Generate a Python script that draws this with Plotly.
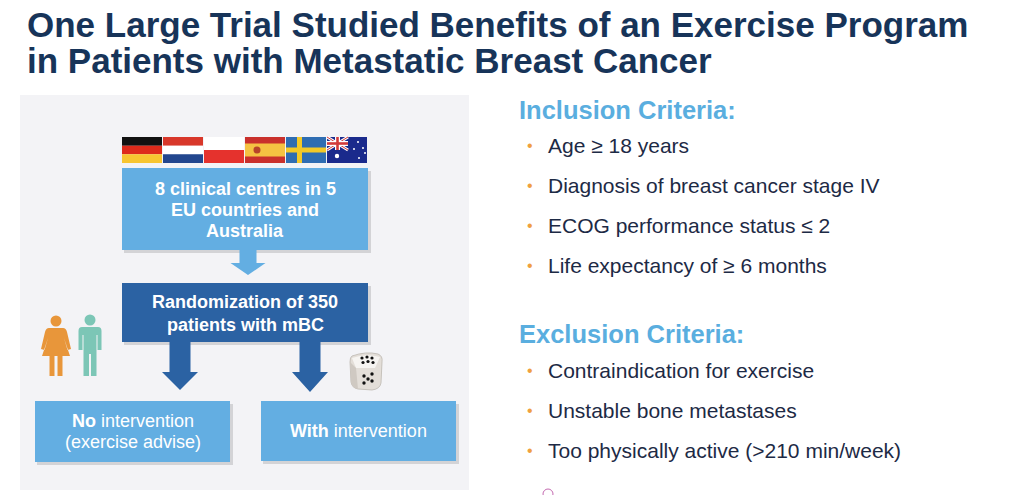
import plotly.graph_objects as go

# ---------------- content ----------------
TITLE_LINES = [
    "One Large Trial Studied Benefits of an Exercise Program",
    "in Patients with Metastatic Breast Cancer",
]
FLAGS = ["Germany", "Netherlands", "Poland", "Spain", "Sweden", "Australia"]
BOX_CENTRES = ["8 clinical centres in 5", "EU countries and", "Australia"]
BOX_RANDOM = ["Randomization of 350", "patients with mBC"]
ARM_NO = ("No", " intervention", "(exercise advise)")
ARM_WITH = ("With", " intervention")
INCLUSION_HEADER = "Inclusion Criteria:"
INCLUSION = [
    "Age ≥ 18 years",
    "Diagnosis of breast cancer stage IV",
    "ECOG performance status ≤ 2",
    "Life expectancy of ≥ 6 months",
]
EXCLUSION_HEADER = "Exclusion Criteria:"
EXCLUSION = [
    "Contraindication for exercise",
    "Unstable bone metastases",
    "Too physically active (>210 min/week)",
]

# ---------------- style ----------------
W, H = 1033, 495
OFF = 0
FONT = "Liberation Sans, Arial, sans-serif"
NAVY = "#173459"
TEXT = "#1d2a45"
LIGHT = "#63aee2"
DARK = "#2b62a3"
HEAD = "#5aaedf"
ORANGE = "#f0a040"
PANEL = "#f3f3f6"

shapes = []
ann = []


def rect(x0, y0, x1, y1, color, **kw):
    shapes.append(dict(type="rect", xref="x", yref="y", x0=x0, y0=y0, x1=x1, y1=y1,
                       fillcolor=color, line=dict(width=0), **kw))


def path(d, color, lw=0, lc=None):
    shapes.append(dict(type="path", xref="x", yref="y", path=d, fillcolor=color,
                       line=dict(width=lw, color=lc or color)))


def circle(cx, cy, r, color):
    shapes.append(dict(type="circle", xref="x", yref="y", x0=cx - r, x1=cx + r,
                       y0=cy - r, y1=cy + r, fillcolor=color, line=dict(width=0)))


def text(x, y, s, size, color, bold=False, anchor="left"):
    ann.append(dict(x=x, y=y, xref="x", yref="y", text=(f"<b>{s}</b>" if bold else s),
                    showarrow=False, xanchor=anchor, yanchor="middle",
                    font=dict(family=FONT, size=size, color=color)))


def down_arrow(cx, y0, yh, yt, sw, hw, color):
    d = (f"M {cx-sw/2},{y0} L {cx+sw/2},{y0} L {cx+sw/2},{yh} L {cx+hw/2},{yh} "
         f"L {cx},{yt} L {cx-hw/2},{yh} L {cx-sw/2},{yh} Z")
    path(d, color)


# ---------------- left panel ----------------
rect(20, 95, 469, 490, PANEL)

# flags
fx0, fy0, fy1 = 122, 137, 163
fw = (368 - 122) / len(FLAGS)
for i, name in enumerate(FLAGS):
    a, b = fx0 + i * fw, fx0 + (i + 1) * fw - 1
    hgt = fy1 - fy0
    if name == "Germany":
        rect(a, fy0, b, fy0 + hgt / 3, "#111111")
        rect(a, fy0 + hgt / 3, b, fy0 + 2 * hgt / 3, "#dd2a1b")
        rect(a, fy0 + 2 * hgt / 3, b, fy1, "#f7c530")
    elif name == "Netherlands":
        rect(a, fy0, b, fy0 + hgt / 3, "#d8372a")
        rect(a, fy0 + hgt / 3, b, fy0 + 2 * hgt / 3, "#ffffff")
        rect(a, fy0 + 2 * hgt / 3, b, fy1, "#22468e")
    elif name == "Poland":
        rect(a, fy0, b, fy0 + hgt / 2, "#ffffff")
        rect(a, fy0 + hgt / 2, b, fy1, "#e5322d")
    elif name == "Spain":
        rect(a, fy0, b, fy1, "#c9302c")
        rect(a, fy0 + hgt / 4, b, fy1 - hgt / 4, "#f5c242")
        circle(a + 12, fy0 + hgt / 2, 3.5, "#b8442a")
    elif name == "Sweden":
        rect(a, fy0, b, fy1, "#2f6db2")
        rect(a + 11, fy0, a + 16, fy1, "#f3c928")
        rect(a, fy0 + hgt / 2 - 2.5, b, fy0 + hgt / 2 + 2.5, "#f3c928")
    elif name == "Australia":
        rect(a, fy0, b, fy1, "#1a2a8c")
        ux0, ux1, uy0, uy1 = a, a + 21, fy0, fy0 + 13
        for c, w in [("white", 3), ("#d23a3a", 1)]:
            shapes.append(dict(type="line", xref="x", yref="y", x0=ux0, y0=uy0, x1=ux1, y1=uy1,
                               line=dict(color=c, width=w)))
            shapes.append(dict(type="line", xref="x", yref="y", x0=ux0, y0=uy1, x1=ux1, y1=uy0,
                               line=dict(color=c, width=w)))
        rect(ux0, (uy0 + uy1) / 2 - 2.5, ux1, (uy0 + uy1) / 2 + 2.5, "white")
        rect((ux0 + ux1) / 2 - 2.5, uy0, (ux0 + ux1) / 2 + 2.5, uy1, "white")
        rect(ux0, (uy0 + uy1) / 2 - 1.3, ux1, (uy0 + uy1) / 2 + 1.3, "#d23a3a")
        rect((ux0 + ux1) / 2 - 1.3, uy0, (ux0 + ux1) / 2 + 1.3, uy1, "#d23a3a")
        circle(a + 10, fy0 + 19, 2.2, "white")
        for sx, sy in [(a + 31, fy0 + 5), (a + 27, fy0 + 12), (a + 36, fy0 + 11),
                       (a + 32, fy0 + 21), (a + 38, fy0 + 16)]:
            circle(sx, sy, 1.0, "white")

# shadows + boxes
SH = "rgba(0,0,0,0.13)"
for (x0, y0, x1, y1, c) in [(122, 168, 368, 250, LIGHT), (122, 283, 368, 342, DARK),
                            (35, 401, 230, 462, LIGHT), (261, 401, 456, 461, LIGHT)]:
    rect(x0 + 2, y0 + 3, x1 + 3, y1 + 3, SH)
    rect(x0, y0, x1, y1, c)

down_arrow(248, 250, 263, 275, 17, 35, LIGHT)
down_arrow(180, 342, 372, 390, 21, 36, DARK)
down_arrow(310, 342, 372, 392, 21, 36, DARK)

# box texts
for k, s in enumerate(BOX_CENTRES):
    text(245, 189 + k * 21, s, 18, "white", bold=True, anchor="center")
for k, s in enumerate(BOX_RANDOM):
    text(245, 302 + k * 23, s, 18, "white", bold=True, anchor="center")
text(133, 421, f"<b>{ARM_NO[0]}</b>{ARM_NO[1]}", 18, "white", anchor="center")
text(133, 442, ARM_NO[2], 18, "white", anchor="center")
text(358, 431, f"<b>{ARM_WITH[0]}</b>{ARM_WITH[1]}", 18, "white", anchor="center")

# people icons
OR = "#e8963a"
TE = "#7cc6b6"
circle(56, 321, 5.5, OR)
path("M 49,328 L 63,328 Q 66,328 67,332 L 71,349 L 67.5,350 L 64,338 L 70,356 "
     "L 42,356 L 48,338 L 44.5,350 L 41,349 L 45,332 Q 46,328 49,328 Z", OR)
rect(49.5, 355, 54.5, 376, OR)
rect(57.5, 355, 62.5, 376, OR)

circle(90, 320, 5.5, TE)
path("M 82,327 L 98,327 Q 101.5,327 101.5,331 L 101.5,350 L 97.5,350 L 97.5,335 "
     "L 96.5,335 L 96.5,376 L 91,376 L 91,354 L 89,354 L 89,376 L 83.5,376 L 83.5,335 "
     "L 82.5,335 L 82.5,350 L 78.5,350 L 78.5,331 Q 78.5,327 82,327 Z", TE)

# dice
path("M 352,356 Q 366,351 378,354 Q 383,356 382,362 L 381,383 Q 380,389 372,390 "
     "L 358,389 Q 352,388 351,382 L 350,362 Q 350,357 352,356 Z", "#e3ded8",
     lw=0.8, lc="#bdb7b0")
path("M 352,358 Q 366,353 380,357 L 375,368 L 356,368 Z", "#f6f4f1")
path("M 350,362 L 356,368 L 358,389 Q 352,388 351,382 Z", "#cfc9c2")
for dx, dy in [(362, 358), (367, 357), (372, 358), (363, 362.5), (368, 361.5), (373, 362.5)]:
    circle(dx, dy, 1.6, "#111111")
for dx, dy in [(364, 376), (372, 374), (368, 379), (364, 383), (372, 381)]:
    circle(dx, dy, 1.7, "#111111")

# ---------------- title ----------------
text(25, 24, TITLE_LINES[0], 35, NAVY, bold=True)
text(25, 60, TITLE_LINES[1], 35, NAVY, bold=True)

# ---------------- criteria ----------------
text(517, 110, INCLUSION_HEADER, 25.5, HEAD, bold=True)
for k, s in enumerate(INCLUSION):
    y = 145 + k * 40
    text(525, y, "•", 16, ORANGE)
    text(546, y, s, 21, TEXT)

text(517, 334, EXCLUSION_HEADER, 25.5, HEAD, bold=True)
for k, s in enumerate(EXCLUSION):
    y = 370 + k * 40
    text(525, y, "•", 16, ORANGE)
    text(546, y, s, 21, TEXT)

# tiny partial icon at bottom edge
shapes.append(dict(type="circle", xref="x", yref="y", x0=543, x1=553, y0=489, y1=499,
                   line=dict(color="#c46ab0", width=1)))

fig = go.Figure()
fig.update_layout(
    width=W, height=H, margin=dict(l=0, r=0, t=0, b=0),
    paper_bgcolor="white", plot_bgcolor="white",
    xaxis=dict(range=[OFF, W + OFF], visible=False, fixedrange=True),
    yaxis=dict(range=[H + OFF, OFF], visible=False, fixedrange=True),
    shapes=shapes, annotations=ann, showlegend=False,
)
fig.write_html("out.html", config={"displayModeBar": False},
               post_script="document.body.style.margin='0px';")
